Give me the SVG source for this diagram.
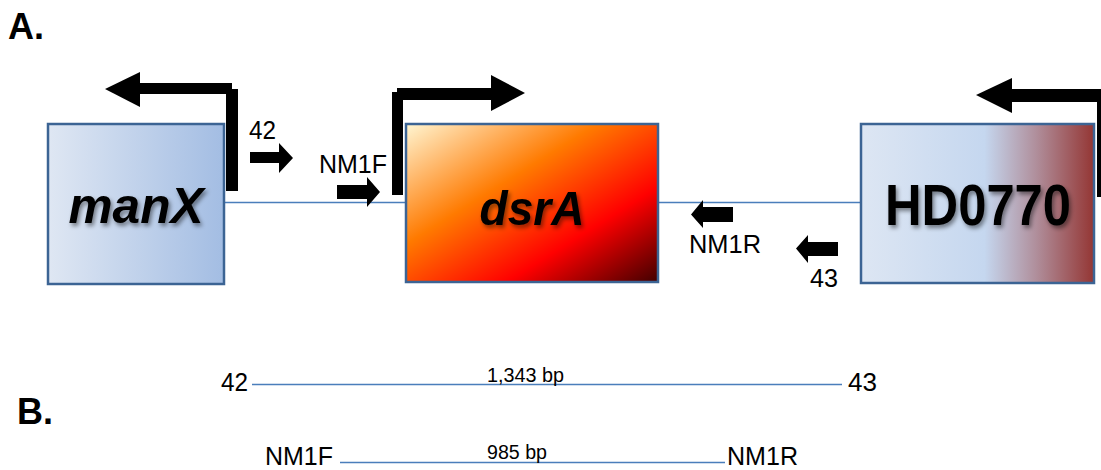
<svg xmlns="http://www.w3.org/2000/svg" width="1101" height="470" viewBox="0 0 1101 470">
<style>
.lbl{font-family:"Liberation Sans",Arial,sans-serif;font-size:26px;fill:#000}
.bp{font-family:"Liberation Sans",Arial,sans-serif;font-size:20px;fill:#000}
.hdr{font-family:"Liberation Sans",Arial,sans-serif;font-weight:bold;font-size:36px;fill:#000}
.gene{font-family:"Liberation Sans",Arial,sans-serif;font-weight:bold;fill:#000;filter:url(#shadow)}
.box{stroke:#3c6494;stroke-width:2.5}
.dna{stroke:#4a7ebb;stroke-width:1.5;fill:none}
.blk{fill:#000}
</style>
<defs>
<linearGradient id="gManX" x1="0" y1="0" x2="1" y2="0">
<stop offset="0" stop-color="#dfe7f3"/>
<stop offset="1" stop-color="#a3bde3"/>
</linearGradient>
<linearGradient id="gDsrA" x1="0" y1="0" x2="1" y2="1">
<stop offset="0" stop-color="#fff6d2"/>
<stop offset="0.15" stop-color="#ffc480"/>
<stop offset="0.38" stop-color="#ff7a00"/>
<stop offset="0.7" stop-color="#ff0000"/>
<stop offset="1" stop-color="#420000"/>
</linearGradient>
<linearGradient id="gHD" x1="0" y1="0" x2="1" y2="0">
<stop offset="0" stop-color="#dde6f3"/>
<stop offset="0.53" stop-color="#c5d7ef"/>
<stop offset="0.75" stop-color="#b08f9c"/>
<stop offset="1" stop-color="#943634"/>
</linearGradient>
<filter id="shadow" x="-10%" y="-20%" width="130%" height="150%">
<feDropShadow dx="2" dy="3" stdDeviation="2" flood-color="#000" flood-opacity="0.45"/>
</filter>
</defs>

<text class="hdr" x="8" y="39">A.</text>
<text class="hdr" x="17" y="424" font-size="34">B.</text>

<g id="connectors">
<line class="dna" x1="224" y1="202.5" x2="406" y2="202.5"/>
<line class="dna" x1="658" y1="202.5" x2="862" y2="202.5"/>
</g>

<g id="manX">
<rect class="box" x="48" y="124" width="176" height="160" fill="url(#gManX)"/>
<text class="gene" x="136" y="223" font-size="50" font-style="italic" text-anchor="middle" textLength="135" lengthAdjust="spacingAndGlyphs">manX</text>
<rect class="blk" x="226" y="89" width="12" height="102"/>
<rect class="blk" x="139" y="83" width="93" height="11"/>
<polygon class="blk" points="140,72 140,107 105,89"/>
</g>

<g id="dsrA">
<rect class="box" x="406" y="124" width="252" height="158" fill="url(#gDsrA)"/>
<text class="gene" x="532" y="225" font-size="48" font-style="italic" text-anchor="middle" textLength="105" lengthAdjust="spacingAndGlyphs">dsrA</text>
<rect class="blk" x="392" y="92" width="11" height="103"/>
<rect class="blk" x="397" y="88" width="95" height="12"/>
<polygon class="blk" points="491,75 491,111 525,93"/>
</g>

<g id="HD0770">
<rect class="box" x="861" y="124" width="233" height="159" fill="url(#gHD)"/>
<text class="gene" x="978" y="225" font-size="58" text-anchor="middle" textLength="186" lengthAdjust="spacingAndGlyphs">HD0770</text>
<rect class="blk" x="1097" y="89" width="12" height="108"/>
<rect class="blk" x="1011" y="89" width="95" height="13"/>
<polygon class="blk" points="1012,78 1012,113 976,95"/>
</g>

<g id="primer42">
<text class="lbl" x="249" y="139" textLength="27" lengthAdjust="spacingAndGlyphs">42</text>
<polygon class="blk" points="250,152 279,152 279,143 293,158 279,173 279,163 250,163"/>
</g>
<g id="primerNM1F">
<text class="lbl" x="319" y="173" textLength="68" lengthAdjust="spacingAndGlyphs">NM1F</text>
<polygon class="blk" points="337,185 367,185 367,177 380,192 367,207 367,199 337,199"/>
</g>
<g id="primerNM1R">
<text class="lbl" x="689" y="253" textLength="72" lengthAdjust="spacingAndGlyphs">NM1R</text>
<polygon class="blk" points="733,207 703,207 703,200 691,214.5 703,228 703,222 733,222"/>
</g>
<g id="primer43">
<text class="lbl" x="810" y="287" textLength="28" lengthAdjust="spacingAndGlyphs">43</text>
<polygon class="blk" points="838,242 808,242 808,235 796,248.5 808,263 808,256 838,256"/>
</g>

<g id="amplicon1">
<text class="lbl" x="221" y="391" font-size="28" textLength="27" lengthAdjust="spacingAndGlyphs">42</text>
<line class="dna" x1="252" y1="384.5" x2="842" y2="384.5"/>
<text class="bp" x="487" y="382" textLength="77" lengthAdjust="spacingAndGlyphs">1,343 bp</text>
<text class="lbl" x="848" y="391" font-size="28" textLength="29" lengthAdjust="spacingAndGlyphs">43</text>
</g>
<g id="amplicon2">
<text class="lbl" x="265" y="465" font-size="27" textLength="68" lengthAdjust="spacingAndGlyphs">NM1F</text>
<line class="dna" x1="340" y1="462.5" x2="725" y2="462.5"/>
<text class="bp" x="487" y="459" textLength="60" lengthAdjust="spacingAndGlyphs">985 bp</text>
<text class="lbl" x="727" y="465" font-size="27" textLength="71" lengthAdjust="spacingAndGlyphs">NM1R</text>
</g>
</svg>
